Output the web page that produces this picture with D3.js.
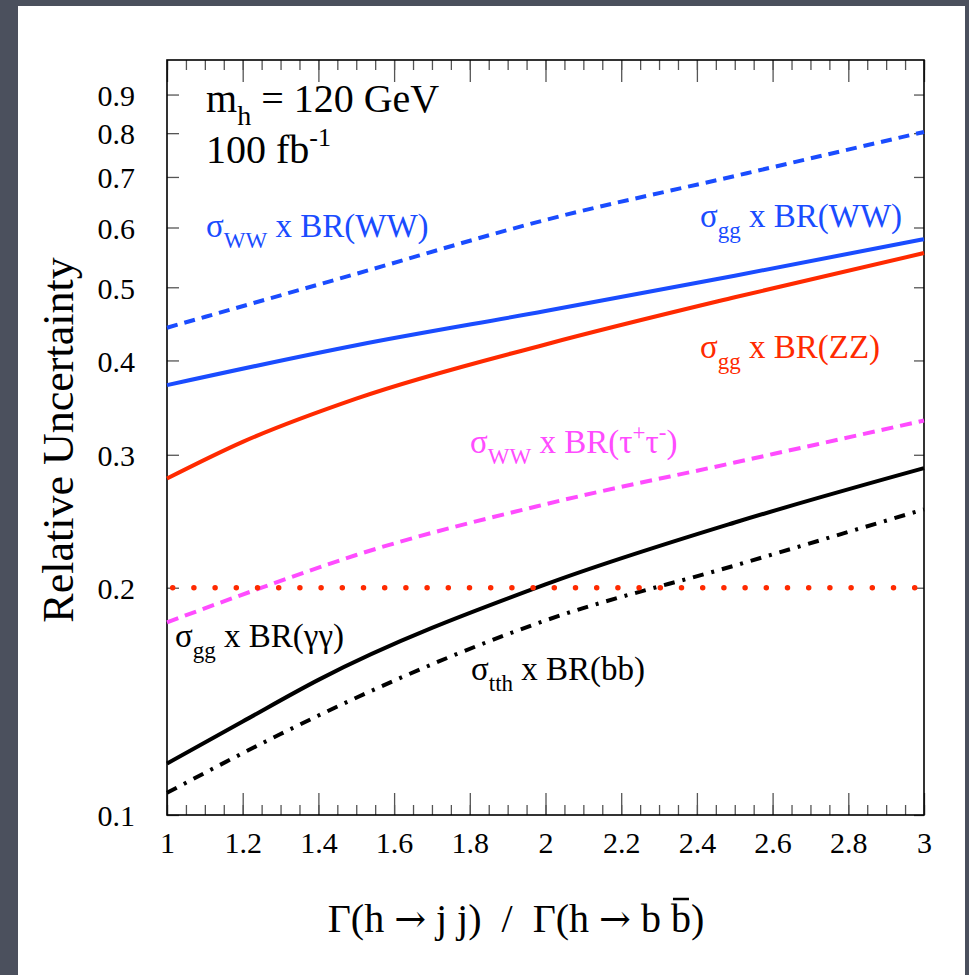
<!DOCTYPE html>
<html>
<head>
<meta charset="utf-8">
<script src="https://cdn.jsdelivr.net/npm/d3@7"></script>
<style>
  body { margin: 0; background: #4b505d; }
  text { font-family: "Liberation Serif", "Times New Roman", serif; }
</style>
</head>
<body>
<div id="chart"></div>
<script>
// tick values
var xTicks = [1, 1.2, 1.4, 1.6, 1.8, 2, 2.2, 2.4, 2.6, 2.8, 3];
var yTicks = [0.1, 0.2, 0.3, 0.4, 0.5, 0.6, 0.7, 0.8, 0.9];

// curves: ratio -> relative uncertainty
var wwWWx = [1, 1.5, 2, 2.5, 3];
var wwWW = [0.442, 0.521, 0.614, 0.702, 0.803];
var ggWWx = [1, 1.5, 2, 2.5, 3];
var ggWW = [0.371, 0.419, 0.465, 0.518, 0.579];
var ggZZx = [1, 1.2, 1.5, 2, 2.5, 3];
var ggZZ = [0.279, 0.312, 0.356, 0.42, 0.485, 0.555];
var wwTauX = [1, 1.25, 1.5, 2, 2.5, 3];
var wwTau = [0.18, 0.2, 0.221, 0.258, 0.293, 0.333];
var ggGGx = [1, 1.2, 1.4, 2, 2.5, 3];
var ggGG = [0.117, 0.133, 0.151, 0.202, 0.244, 0.288];
var tthBBx = [1, 1.3, 1.5, 2, 2.5, 3];
var tthBB = [0.107, 0.128, 0.143, 0.181, 0.214, 0.254];
var flatX = [1, 3];
var flat = [0.2, 0.2];

var W = 969, H = 975;
var m = { left: 167, right: 924, top: 60, bottom: 815 };

var svg = d3
  .select("#chart")
  .append("svg")
  .attr("width", W)
  .attr("height", H);

// white page
svg.append("rect").attr("x", 18).attr("y", 6).attr("width", 947).attr("height", H - 6).attr("fill", "#fff");

var x = d3.scaleLinear().domain([1, 3]).range([m.left, m.right]);
var y = d3.scaleLog().domain([0.1, 1]).range([m.bottom, m.top]);

var minorX = d3.range(1, 3.001, 0.05);
var fmt1 = d3.format(".1f");

function styleAxis(g) {
  g.select(".domain").remove();
  g.selectAll(".tick line").attr("stroke", "#555").attr("stroke-width", 1.3);
  g.selectAll(".tick text")
    .attr("fill", "#000")
    .style("font-family", "Liberation Serif, Times New Roman, serif")
    .style("font-size", "30px");
}

//bottom axis, minor then major with labels
svg.append("g")
  .attr("transform", "translate(0," + m.bottom + ")")
  .call(d3.axisBottom(x).tickValues(minorX).tickSize(-10).tickFormat(""))
  .call(styleAxis);
svg.append("g")
  .attr("transform", "translate(0," + m.bottom + ")")
  .call(d3.axisBottom(x).tickValues(xTicks).tickSize(-22).tickPadding(17).tickFormat(d3.format("~g")))
  .call(styleAxis);

//top axis, no labels
svg.append("g")
  .attr("transform", "translate(0," + m.top + ")")
  .call(d3.axisTop(x).tickValues(minorX).tickSize(-10).tickFormat(""))
  .call(styleAxis);
svg.append("g")
  .attr("transform", "translate(0," + m.top + ")")
  .call(d3.axisTop(x).tickValues(xTicks).tickSize(-22).tickFormat(""))
  .call(styleAxis);

//left and right axis
svg.append("g")
  .attr("transform", "translate(" + m.left + ",0)")
  .call(d3.axisLeft(y).tickValues(yTicks).tickSize(-12).tickPadding(32).tickFormat(fmt1))
  .call(styleAxis)
  .selectAll(".tick text").attr("dy", "0.36em");
svg.append("g")
  .attr("transform", "translate(" + m.right + ",0)")
  .call(d3.axisRight(y).tickValues(yTicks).tickSize(-10).tickFormat(""))
  .call(styleAxis);

// frame
svg.append("rect")
  .attr("x", m.left).attr("y", m.top)
  .attr("width", m.right - m.left).attr("height", m.bottom - m.top)
  .attr("fill", "none").attr("stroke", "#000").attr("stroke-width", 1.6);

var line = d3.line()
  .x(function (d) { return x(d[0]); })
  .y(function (d) { return y(d[1]); })
  .curve(d3.curveMonotoneX);

var curves = [
  { xs: wwWWx, ys: wwWW, color: "#1a4cff", dash: "11,7" },
  { xs: ggWWx, ys: ggWW, color: "#1a4cff", dash: null },
  { xs: ggZZx, ys: ggZZ, color: "#ff2a00", dash: null },
  { xs: wwTauX, ys: wwTau, color: "#ff4cff", dash: "12,7" },
  { xs: ggGGx, ys: ggGG, color: "#000", dash: null },
  { xs: tthBBx, ys: tthBB, color: "#000", dash: "11,8,3,8" }
];

svg.selectAll("path.curve")
  .data(curves)
  .enter()
  .append("path")
  .attr("class", "curve")
  .attr("d", function (d) { return line(d.xs.map(function (v, i) { return [v, d.ys[i]]; })); })
  .attr("fill", "none")
  .attr("stroke", function (d) { return d.color; })
  .attr("stroke-width", 4)
  .attr("stroke-dasharray", function (d) { return d.dash; });

// red dotted line at 0.2
svg.append("path")
  .attr("d", line(flatX.map(function (v, i) { return [v, flat[i]]; })))
  .attr("fill", "none")
  .attr("stroke", "#ff2a00")
  .attr("stroke-width", 5.5)
  .attr("stroke-linecap", "round")
  .attr("stroke-dasharray", "0,21.2")
  .attr("stroke-dashoffset", 15.5);

// curve labels with subscripts
function label(px, py, color, sub, rest) {
  var t = svg.append("text")
    .attr("x", px).attr("y", py)
    .attr("fill", color)
    .style("font-size", "33px");
  t.append("tspan").text("\u03c3");
  t.append("tspan").attr("dy", 11).style("font-size", "23px").text(sub);
  t.append("tspan").attr("dy", -11).text(" " + rest);
  return t;
}

label(206, 237, "#1a4cff", "WW", "x BR(WW)");
label(700, 227, "#1a4cff", "gg", "x BR(WW)");
label(700, 358, "#ff2a00", "gg", "x BR(ZZ)");
var tau = svg.append("text")
  .attr("x", 470).attr("y", 453)
  .attr("fill", "#ff4cff")
  .style("font-size", "33px");
tau.append("tspan").text("\u03c3");
tau.append("tspan").attr("dy", 11).style("font-size", "23px").text("WW");
tau.append("tspan").attr("dy", -11).text(" x BR(\u03c4");
tau.append("tspan").attr("dy", -13).style("font-size", "23px").text("+");
tau.append("tspan").attr("dy", 13).text("\u03c4");
tau.append("tspan").attr("dy", -13).style("font-size", "23px").text("-");
tau.append("tspan").attr("dy", 13).text(")");
label(175, 647, "#000", "gg", "x BR(\u03b3\u03b3)");
label(471, 680, "#000", "tth", "x BR(bb)");

// run info
var mh = svg.append("text").attr("x", 206).attr("y", 112).style("font-size", "40px");
mh.append("tspan").text("m");
mh.append("tspan").attr("dy", 13).style("font-size", "28px").text("h");
mh.append("tspan").attr("dy", -13).text(" = 120 GeV");
var lumi = svg.append("text").attr("x", 206).attr("y", 163).style("font-size", "40px");
lumi.append("tspan").text("100 fb");
lumi.append("tspan").attr("dy", -17).style("font-size", "26px").text("-1");

// axis titles
svg.append("text")
  .attr("transform", "translate(73,440)rotate(-90)")
  .attr("text-anchor", "middle")
  .style("font-size", "44px")
  .text("Relative Uncertainty");

var xt = svg.append("text")
  .attr("x", 516).attr("y", 932)
  .attr("text-anchor", "middle")
  .style("font-size", "40px")
  .style("white-space", "pre");
var parts = ["\u0393(h ", "\u2192", " j j)  /  \u0393(h ", "\u2192", " b b)"];
parts.forEach(function (p) {
  var s = xt.append("tspan").text(p);
  if (p === "\u2192") s.style("font-family", "DejaVu Serif").style("font-size", "38px");
});

//bar over the last b
var n = parts.join("").length;
var box = xt.node().getExtentOfChar(n - 2);
svg.append("line")
  .attr("x1", box.x + 2).attr("x2", box.x + box.width - 2)
  .attr("y1", box.y + 3).attr("y2", box.y + 3)
  .attr("stroke", "#000").attr("stroke-width", 2.5);
</script>
</body>
</html>
